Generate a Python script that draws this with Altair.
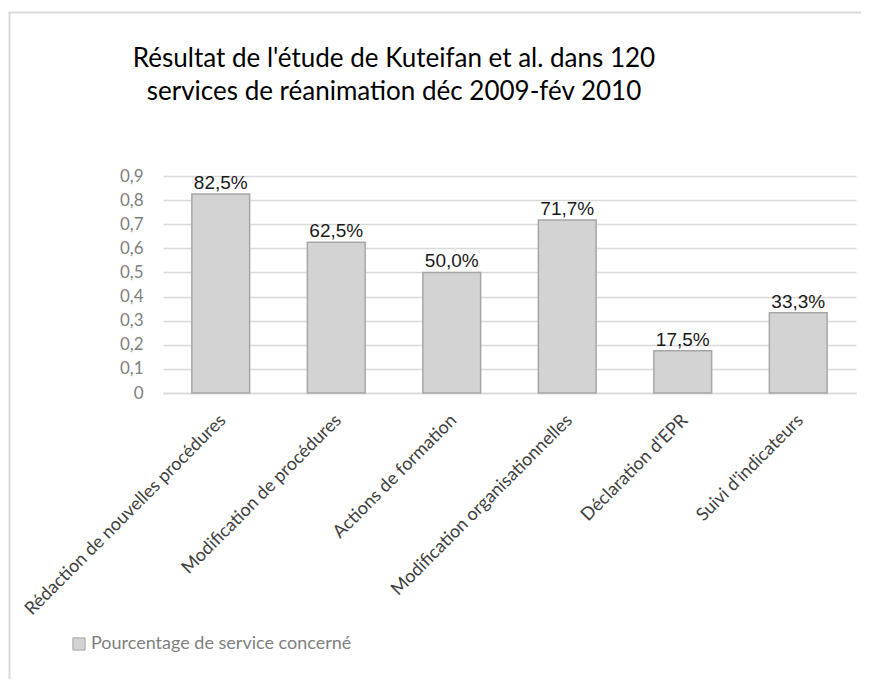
import altair as alt
import pandas as pd

categories = [
    "Rédaction de nouvelles procédures",
    "Modification de procédures",
    "Actions de formation",
    "Modification organisationnelles",
    "Déclaration d'EPR",
    "Suivi d'indicateurs",
]
values = [0.825, 0.625, 0.500, 0.717, 0.175, 0.333]
series_name = "Pourcentage de service concerné"
y_ticks = [0, 0.1, 0.2, 0.3, 0.4, 0.5, 0.6, 0.7, 0.8, 0.9]
title_lines = [
    "Résultat de l'étude de Kuteifan et al. dans 120",
    "services de réanimation déc 2009-fév 2010",
]

df = pd.DataFrame({"cat": categories, "val": values})
df["label"] = [f"{v * 100:.1f}%".replace(".", ",") for v in values]
df["serie"] = series_name

W, H = 693, 217
FONT = "Lato"

x_enc = alt.X(
    "cat:N",
    sort=categories,
    scale=alt.Scale(paddingInner=0.5, paddingOuter=0.25),
    axis=alt.Axis(
        title=None,
        labelAngle=-45,
        labelFont=FONT,
        labelFontSize=18,
        labelColor="#404040",
        labelPadding=18,
        labelOffset=-4,
        ticks=False,
        domain=True,
        domainColor="#d9d9d9",
        domainWidth=1.5,
        labelLimit=400,
    ),
)
y_enc = alt.Y(
    "val:Q",
    scale=alt.Scale(domain=[0, 0.9], nice=False),
    axis=alt.Axis(
        title=None,
        values=y_ticks,
        tickCount=10,
        labelExpr="datum.value == 0 ? '0' : replace(format(datum.value, '.1f'), '.', ',')",
        labelFont=FONT,
        labelFontSize=17,
        labelColor="#7f7f7f",
        labelPadding=20,
        labelOverlap=False,
        ticks=False,
        domain=False,
        grid=True,
        gridColor="#d9d9d9",
        gridWidth=1.3,
    ),
)

base = alt.Chart(df)

bars = base.mark_bar(stroke="#a6a6a6", strokeWidth=1.5).encode(
    x=x_enc,
    y=y_enc,
    fill=alt.Fill(
        "serie:N",
        scale=alt.Scale(range=["#d3d3d3"]),
        legend=alt.Legend(
            title=None,
            orient="none",
            legendX=-93,
            legendY=459,
            symbolType="square",
            symbolSize=150,
            symbolStrokeColor="#a6a6a6",
            symbolStrokeWidth=1,
            labelFont=FONT,
            labelFontSize=18,
            labelColor="#7f7f7f",
            labelOffset=3,
            labelLimit=500,
        ),
    ),
)

texts = base.mark_text(
    baseline="alphabetic", dy=-5, font="Liberation Sans", fontSize=19, color="#1a1a1a"
).encode(x=x_enc, y=y_enc, text="label:N")

border_df = pd.DataFrame({"b": [0]})
left_border = alt.Chart(border_df).mark_rule(color="#d9d9d9", strokeWidth=2).encode(
    x=alt.value(-153.5), y=alt.value(-163.5), y2=alt.value(520)
)
top_border = alt.Chart(border_df).mark_rule(color="#d9d9d9", strokeWidth=2).encode(
    x=alt.value(-154.5), x2=alt.value(720), y=alt.value(-163.5)
)

chart = (
    alt.layer(bars, texts, left_border, top_border)
    .properties(
        width=W,
        height=H,
        background="white",
        autosize=alt.AutoSizeParams(type="none"),
        padding={"left": 155, "top": 168, "right": 5, "bottom": 286},
        title=alt.TitleParams(
            text=title_lines,
            anchor="start",
            frame="group",
            align="center",
            dx=231,
            dy=93,
            offset=0,
            font=FONT,
            fontSize=26,
            fontWeight="normal",
            color="#000000",
            lineHeight=33,
        ),
    )
    .configure_view(stroke=None, strokeWidth=0)
)

chart.save("out.html", embed_options={"renderer": "svg", "actions": False})
